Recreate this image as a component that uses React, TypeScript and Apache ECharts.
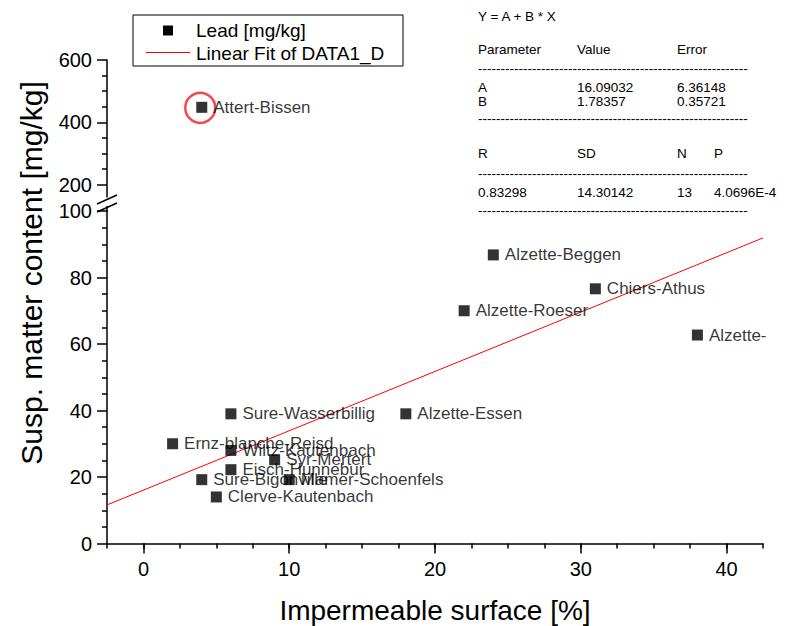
import React, { useEffect, useRef } from "react";
import * as echarts from "echarts";

const FONT = '"Liberation Sans", Arial, Helvetica, sans-serif';

// ---- data ----
const sites = [
  "Attert-Bissen",
  "Alzette-Beggen",
  "Chiers-Athus",
  "Alzette-Roeser",
  "Alzette-",
  "Sure-Wasserbillig",
  "Alzette-Essen",
  "Ernz-blanche-Reisd",
  "Wiltz-Kautenbach",
  "Syr-Mertert",
  "Eisch-Hunnebur",
  "Sure-Bigonville",
  "Mamer-Schoenfels",
  "Clerve-Kautenbach",
];
const impermeable = [4, 24, 31, 22, 38, 6, 18, 2, 6, 9, 6, 4, 10, 5];
const lead = [448, 86.8, 76.6, 70, 62.7, 39, 39, 30, 28, 25.2, 22.2, 19.2, 19.2, 14];

// linear fit line end points
const fitX = [-2.5, 42.5];
const fitY = [11.6, 91.9];

// axis ticks / labels
const xMajor = [0, 10, 20, 30, 40];
const upperMajor = [200, 400, 600];
const upperMinor = [250, 300, 350, 450, 500, 550];

// fit statistics table
const fitHeader = ["Parameter", "Value", "Error"];
const fitRowA = ["A", "16.09032", "6.36148"];
const fitRowB = ["B", "1.78357", "0.35721"];
const statHeader = ["R", "SD", "N", "P"];
const statValues = ["0.83298", "14.30142", "13", "4.0696E-4"];

const BREAK_MAX = 100;

export default function App() {
  const ref = useRef<HTMLDivElement>(null);

  useEffect(() => {
    if (!ref.current) return;
    const chart = echarts.init(ref.current, null, { renderer: "svg" });

    const lowerPts: any[] = [];
    const upperPts: any[] = [];
    sites.forEach((s, i) => {
      const p = { name: s, value: [impermeable[i], lead[i]] };
      if (lead[i] > BREAK_MAX) upperPts.push(p);
      else lowerPts.push(p);
    });

    const axisLineStyle = { color: "#000", width: 1.5 };
    const labelStyle = { color: "#000", fontSize: 20, fontFamily: FONT };

    const dash = "-".repeat(60);
    const t = (text: string, x: number, y: number, size = 13.5, extra: any = {}) => ({
      type: "text",
      x,
      y,
      style: {
        text,
        fill: "#000",
        font: `${size}px ${FONT}`,
        textVerticalAlign: "middle",
        ...extra,
      },
    });
    const colX = [478, 577, 677, 714];

    const graphic: any[] = [
      // lower axis line continued up to the break
      { type: "line", shape: { x1: 107, y1: 206, x2: 107, y2: 212 }, style: { stroke: "#000", lineWidth: 1.5 } },
      // axis break marks
      { type: "line", shape: { x1: 97, y1: 204, x2: 117, y2: 195 }, style: { stroke: "#000", lineWidth: 1.5 } },
      { type: "line", shape: { x1: 97, y1: 212, x2: 117, y2: 203 }, style: { stroke: "#000", lineWidth: 1.5 } },
      // legend
      { type: "rect", shape: { x: 133, y: 15, width: 270, height: 51 }, style: { fill: "#fff", stroke: "#000", lineWidth: 1 } },
      { type: "rect", shape: { x: 163, y: 25.5, width: 10, height: 10 }, style: { fill: "#000" } },
      { type: "line", shape: { x1: 146, y1: 52.5, x2: 190, y2: 52.5 }, style: { stroke: "#ff0000", lineWidth: 1 } },
      t("Lead [mg/kg]", 196, 30.5, 19),
      t("Linear Fit of DATA1_D", 196, 53, 19),
      // fit table
      t("Y = A + B * X", colX[0], 16),
      ...fitHeader.map((s, i) => t(s, colX[i], 49)),
      t(dash, colX[0], 68),
      ...fitRowA.map((s, i) => t(s, colX[i], 87)),
      ...fitRowB.map((s, i) => t(s, colX[i], 101)),
      t(dash, colX[0], 118),
      ...statHeader.map((s, i) => t(s, colX[i], 153)),
      t(dash, colX[0], 173),
      ...statValues.map((s, i) => t(s, colX[i], 192)),
      t(dash, colX[0], 210),
      // y axis title
      {
        type: "text",
        x: 31,
        y: 273,
        rotation: Math.PI / 2,
        style: {
          text: "Susp. matter content [mg/kg]",
          fill: "#000",
          font: `30px ${FONT}`,
          textAlign: "center",
          textVerticalAlign: "middle",
        },
      },
    ];

    const option: any = {
      animation: false,
      backgroundColor: "#fff",
      textStyle: { fontFamily: FONT },
      grid: [
        { left: 107, right: 29, top: 60, height: 137, outerBoundsMode: "none", containLabel: false },
        { left: 107, right: 29, top: 211, bottom: 82.5, outerBoundsMode: "none", containLabel: false },
      ],
      xAxis: [
        { gridIndex: 0, type: "value", min: -2.5, max: 42.5, show: false },
        {
          gridIndex: 1,
          type: "value",
          min: -2.5,
          max: 42.5,
          interval: 2.5,
          axisLine: { onZero: false, lineStyle: axisLineStyle },
          axisTick: { length: 5, lineStyle: axisLineStyle },
          axisLabel: { show: false },
          splitLine: { show: false },
        },
        {
          gridIndex: 1,
          type: "value",
          position: "bottom",
          min: -2.5,
          max: 42.5,
          axisLine: { show: false, onZero: false },
          axisTick: { customValues: xMajor, length: 10, lineStyle: axisLineStyle },
          axisLabel: { customValues: xMajor, margin: 15, ...labelStyle },
          splitLine: { show: false },
          name: "Impermeable surface [%]",
          nameLocation: "middle",
          nameGap: 53,
          nameTextStyle: { color: "#000", fontSize: 28, fontFamily: FONT },
        },
      ],
      yAxis: [
        {
          gridIndex: 0,
          type: "value",
          min: 160,
          max: 600,
          axisLine: { onZero: false, lineStyle: axisLineStyle },
          axisTick: { customValues: upperMinor, length: 5, lineStyle: axisLineStyle },
          axisLabel: { show: false },
          splitLine: { show: false },
        },
        {
          gridIndex: 0,
          type: "value",
          position: "left",
          min: 160,
          max: 600,
          axisLine: { show: false, onZero: false },
          axisTick: { customValues: upperMajor, length: 10, lineStyle: axisLineStyle },
          axisLabel: { customValues: upperMajor, margin: 15, ...labelStyle },
          splitLine: { show: false },
        },
        {
          gridIndex: 1,
          type: "value",
          min: 0,
          max: BREAK_MAX,
          interval: 20,
          axisLine: { onZero: false, lineStyle: axisLineStyle },
          axisTick: { length: 10, lineStyle: axisLineStyle },
          minorTick: { show: true, splitNumber: 4, length: 5, lineStyle: axisLineStyle },
          axisLabel: { margin: 15, ...labelStyle },
          splitLine: { show: false },
        },
      ],
      series: [
        {
          type: "line",
          name: "Linear Fit of DATA1_D",
          xAxisIndex: 1,
          yAxisIndex: 2,
          data: fitX.map((x, i) => [x, fitY[i]]),
          showSymbol: false,
          symbol: "none",
          clip: false,
          lineStyle: { color: "#ff0000", width: 1 },
          silent: true,
          z: 1,
        },
        {
          type: "scatter",
          name: "Lead [mg/kg]",
          xAxisIndex: 1,
          yAxisIndex: 2,
          data: lowerPts,
          symbol: "rect",
          symbolSize: 11,
          itemStyle: { color: "#000" },
          label: {
            show: true,
            position: "right",
            distance: 6,
            formatter: "{b}",
            color: "#000",
            fontSize: 17,
            fontFamily: FONT,
          },
          z: 3,
        },
        {
          type: "scatter",
          name: "Lead [mg/kg] outlier",
          xAxisIndex: 0,
          yAxisIndex: 0,
          data: upperPts,
          symbol: "rect",
          symbolSize: 11,
          itemStyle: { color: "#000" },
          label: {
            show: true,
            position: "right",
            distance: 6,
            formatter: "{b}",
            color: "#000",
            fontSize: 17,
            fontFamily: FONT,
          },
          z: 3,
        },
        {
          type: "scatter",
          name: "excluded",
          xAxisIndex: 0,
          yAxisIndex: 0,
          data: upperPts.map((p) => ({ value: p.value })),
          symbol: "circle",
          symbolSize: 30,
          symbolOffset: [-1.5, 0.5],
          itemStyle: { color: "rgba(0,0,0,0)", borderColor: "#ee1c25", borderWidth: 2.5 },
          silent: true,
          z: 2,
        },
      ],
      graphic,
    };

    chart.setOption(option);
    return () => chart.dispose();
  }, []);

  return (
    <div
      ref={ref}
      style={{ position: "fixed", left: 0, top: 0, width: 792, height: 626, background: "#fff" }}
    />
  );
}
